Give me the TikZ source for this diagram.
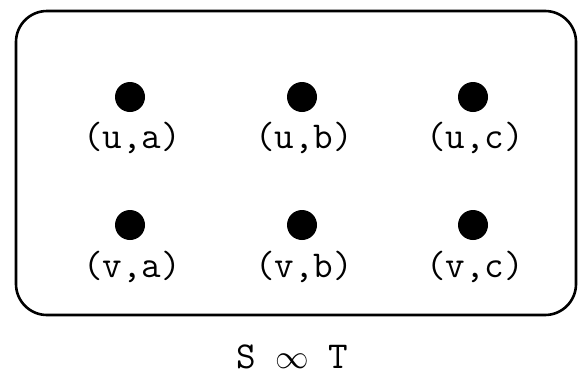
\documentclass[tikz,border=0pt]{standalone}
\begin{document}
\begin{tikzpicture}[x=1pt,y=-1pt,
  vdot/.style={circle,fill=black,inner sep=0pt,minimum size=30pt},
  vlabel/.style={anchor=base,inner sep=0pt,font=\ttfamily\fontsize{38}{44}\selectfont},
  frame/.style={draw=black,line width=2.6pt,rounded corners=31pt}]
\useasboundingbox (0,0) rectangle (585,375);
\draw[frame] (16,11) rectangle (576,315);
\foreach \c/\x in {a/130,b/302,c/473}{
  \node[vdot] (u\c) at (\x,97) {};
  \node[vlabel] (lu\c) at (\x+2,148) {(u,\c)};
  \node[vdot] (v\c) at (\x,225) {};
  \node[vlabel] (lv\c) at (\x+2,277) {(v,\c)};
}
\node[vlabel] (cap) at (292,368) {S \scalebox{1.35}{$\infty$} T};
\end{tikzpicture}
\end{document}
